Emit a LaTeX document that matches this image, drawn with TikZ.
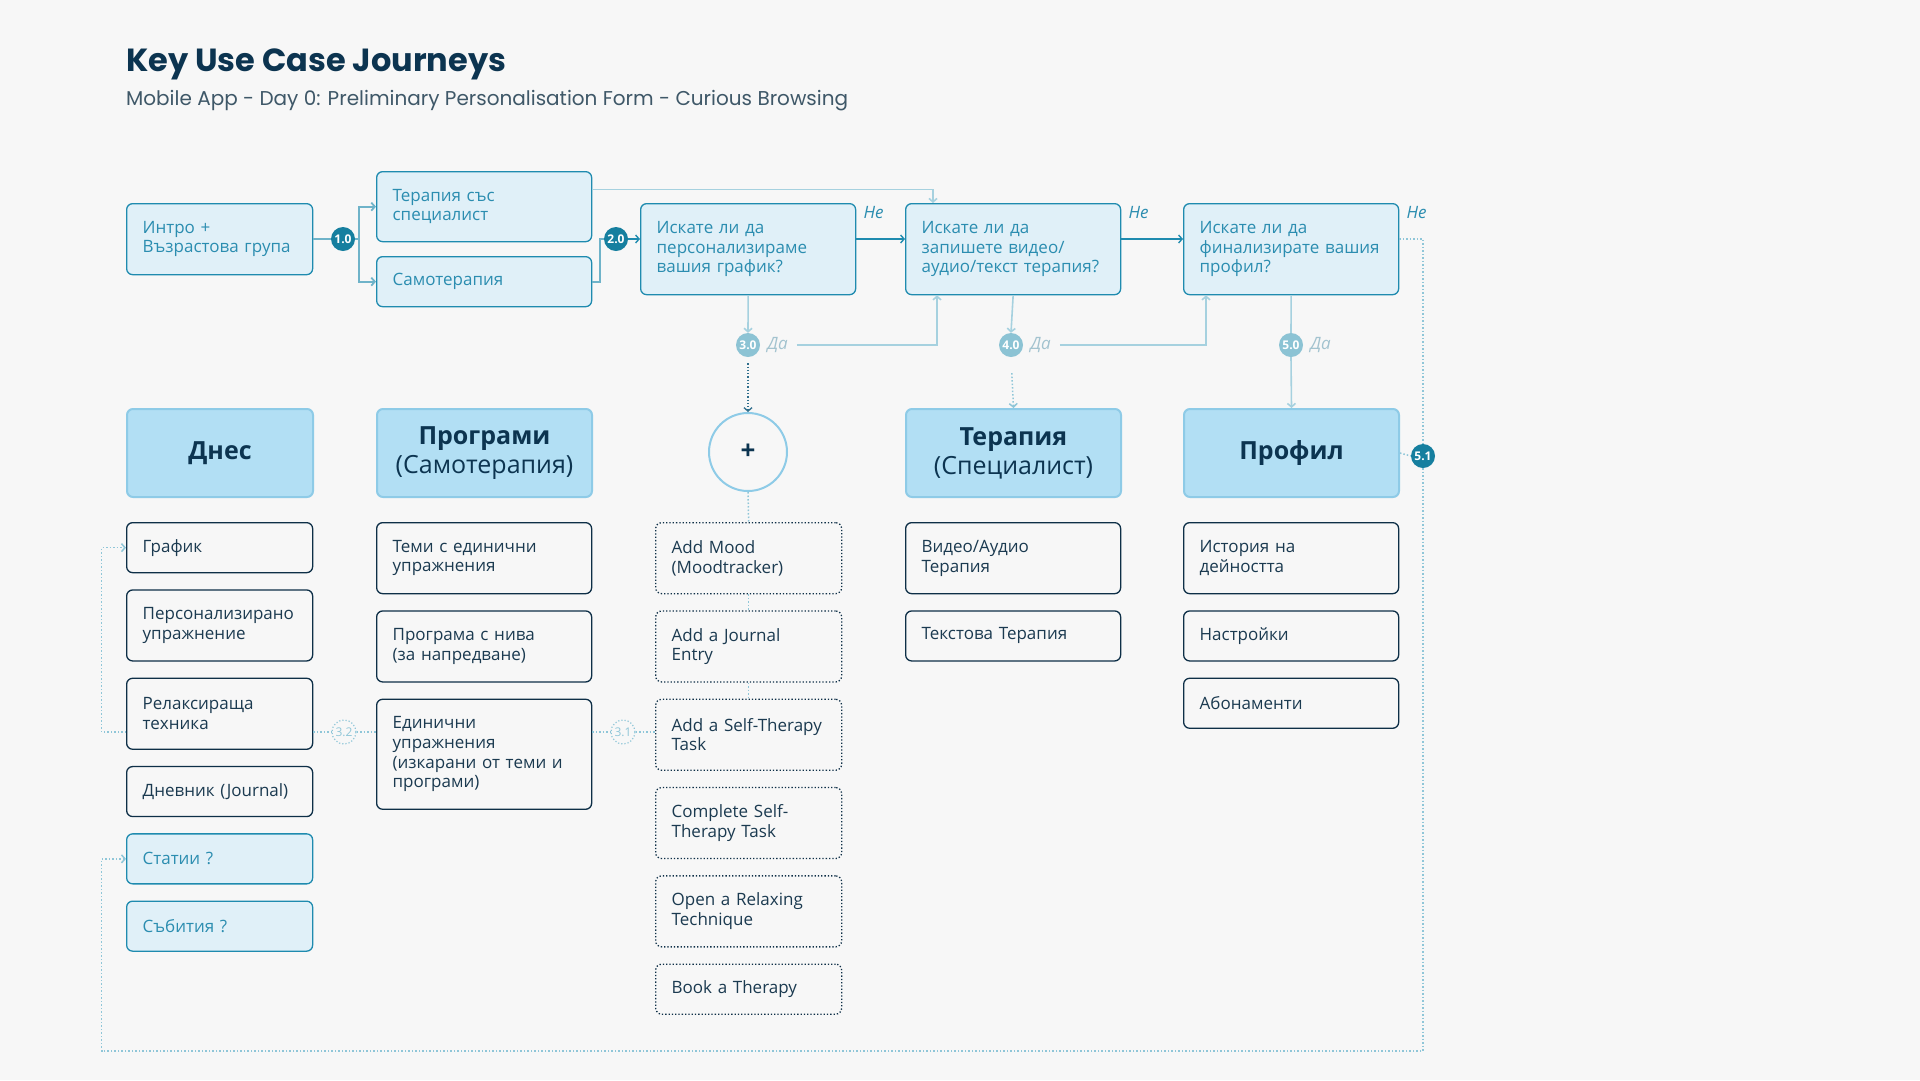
\documentclass[tikz,border=0pt]{standalone}
\usepackage{fontspec}
\setmainfont{Open Sans}
\newfontfamily\titlefont{Poppins}
\usetikzlibrary{arrows.meta, positioning, calc}
\definecolor{pagebg}{HTML}{F7F7F7}
\definecolor{navy}{HTML}{0C3450}
\definecolor{subgray}{HTML}{3F5868}
\definecolor{qfill}{HTML}{E0F0F8}
\definecolor{qline}{HTML}{1F8BAF}
\definecolor{qtext}{HTML}{2B8DB0}
\definecolor{hfill}{HTML}{B2DFF4}
\definecolor{hline}{HTML}{8ECBE7}
\definecolor{itemline}{HTML}{0E2F47}
\definecolor{itemtext}{HTML}{1B3A50}
\definecolor{darkbadge}{HTML}{167F9F}
\definecolor{softbadge}{HTML}{8CC3D4}
\definecolor{softline}{HTML}{A6D1DF}
\definecolor{midline}{HTML}{6FB3C9}
\definecolor{dotline}{HTML}{8FC6D8}
\definecolor{dotdark}{HTML}{2F6E8C}
\definecolor{datext}{HTML}{A3C3CF}

\begin{document}
\begin{tikzpicture}[x=1pt, y=-1pt,
  every node/.style={font=\fontsize{17}{19.6}\selectfont},
  topbox/.style={rectangle, rounded corners=6pt, draw=qline, fill=qfill, text=qtext, line width=1.3pt, align=left, inner xsep=16pt, anchor=north west},
  headbox/.style={rectangle, rounded corners=6pt, draw=hline, fill=hfill, text=navy, line width=2pt, align=center, inner xsep=16pt, minimum height=88pt, anchor=north west, font=\fontsize{25}{29}\selectfont},
  itembox/.style={rectangle, rounded corners=6pt, draw=itemline, text=itemtext, line width=1.3pt, align=left, inner xsep=16pt},
  optbox/.style={itembox, dotted},
  narrow/.style={text width=154pt},
  wide/.style={text width=183pt},
  short/.style={minimum height=50pt},
  tall/.style={minimum height=71pt},
  badge/.style={circle, fill=darkbadge, text=white, inner sep=0pt, minimum size=24pt, font=\bfseries\fontsize{12}{12}\selectfont},
  softbadge/.style={badge, fill=softbadge},
  linkbadge/.style={circle, draw=dotline, dotted, line width=1.2pt, text=dotline, inner sep=0pt, minimum size=24pt, font=\fontsize{12}{12}\selectfont},
  yes/.style={text=datext, inner sep=0pt, font=\itshape\fontsize{17}{17}\selectfont},
  no/.style={text=qtext, inner sep=0pt, font=\itshape\fontsize{17}{17}\selectfont},
  arr/.style={-{Straight Barb[length=3.5pt, width=8pt]}},
  flow/.style={draw=qline, line width=1.4pt},
  midflow/.style={draw=midline, line width=1.8pt},
  softflow/.style={draw=softline, line width=1.6pt},
  dotsoft/.style={draw=dotline, line width=1.5pt, dotted},
  dotstrong/.style={draw=dotdark, line width=1.3pt, dotted},
]
\fill[pagebg] (0,0) rectangle (1920,1080);

% Heading
\node[anchor=base west, inner sep=0pt, text=navy, font=\titlefont\bfseries\fontsize{32}{36}\selectfont] (title) at (126,71) {Key Use Case Journeys};
\node[anchor=base west, inner sep=0pt, text=subgray, font=\titlefont\fontsize{20}{24}\selectfont] (subtitle) at (126,105) {Mobile App - Day 0: Preliminary Personalisation Form - Curious Browsing};

% Questions
\node[topbox, narrow, tall] (intro) at (126,203) {Интро +\\Възрастова група};
\node[topbox, wide, minimum height=70pt] (spec) at (376,171) {Терапия със\\специалист};
\node[topbox, wide, short] (self) at (376,256) {Самотерапия};
\node[topbox, wide, minimum height=91pt] (q1) at (640,203) {Искате ли да\\персонализираме\\вашия график?};
\node[topbox, wide, minimum height=91pt] (q2) at (905,203) {Искате ли да\\запишете видео/\\аудио/текст терапия?};
\node[topbox, wide, minimum height=91pt] (q3) at (1183,203) {Искате ли да\\финализирате вашия\\профил?};

% Sections
\node[headbox, narrow] (today) at (126,408) {\textbf{Днес}};
\node[headbox, wide] (progs) at (376,408) {\textbf{Програми}\\(Самотерапия)};
\node[circle, draw=hline, line width=2pt, minimum size=78pt, inner sep=0pt, text=navy, font=\bfseries\fontsize{26}{26}\selectfont] (plus) at (748,452) {+};
\node[headbox, wide] (therapy) at (905,408) {\textbf{Терапия}\\(Специалист)};
\node[headbox, wide] (profile) at (1183,408) {\textbf{Профил}};

% Today
\node[itembox, narrow, short, anchor=north west] (grafik) at (126,522) {График};
\node[itembox, narrow, tall, below=16pt of grafik] (persex) {Персонализирано\\упражнение};
\node[itembox, narrow, tall, below=16pt of persex] (relax) {Релаксираща\\техника};
\node[itembox, narrow, short, below=16pt of relax] (diary) {Дневник (Journal)};
\node[topbox, narrow, short, below=16pt of diary] (articles) {Статии ?};
\node[topbox, narrow, short, below=16pt of articles] (events) {Събития ?};

% Programs
\node[itembox, wide, tall, anchor=north west] (topics) at (376,522) {Теми с единични\\упражнения};
\node[itembox, wide, tall, below=16pt of topics] (levels) {Програма с нива\\(за напредване)};
\node[itembox, wide, minimum height=110pt, below=16pt of levels] (single) {Единични\\упражнения\\(изкарани от теми и\\програми)};

% Quick actions
\node[optbox, narrow, tall, anchor=north west] (mood) at (655,522) {Add Mood\\(Moodtracker)};
\node[optbox, narrow, tall, below=16pt of mood] (entry) {Add a Journal\\Entry};
\node[optbox, narrow, tall, below=16pt of entry] (task) {Add a Self-Therapy\\Task};
\node[optbox, narrow, tall, below=16pt of task] (done) {Complete Self-\\Therapy Task};
\node[optbox, narrow, tall, below=16pt of done] (tech) {Open a Relaxing\\Technique};
\node[optbox, narrow, short, below=16pt of tech] (book) {Book a Therapy};

% Therapy
\node[itembox, wide, tall, anchor=north west] (media) at (905,522) {Видео/Аудио\\Терапия};
\node[itembox, wide, short, below=16pt of media] (textth) {Текстова Терапия};

% Profile
\node[itembox, wide, tall, anchor=north west] (history) at (1183,522) {История на\\дейността};
\node[itembox, wide, short, below=16pt of history] (settings) {Настройки};
\node[itembox, wide, short, below=16pt of settings] (subs) {Абонаменти};

% Badges
\node[badge] (b10) at (343,239) {1.0};
\node[badge] (b20) at (616,239) {2.0};
\node[softbadge] (b30) at (748,345) {3.0};
\node[softbadge] (b40) at (1011,345) {4.0};
\node[softbadge] (b50) at (1291,345) {5.0};
\node[badge] (b51) at (1423,456) {5.1};
\node[linkbadge] (b32) at (344,732) {3.2};
\node[linkbadge] (b31) at (623,732) {3.1};

\node[yes, anchor=west] (yes3) at ([xshift=7pt]b30.east) {Да};
\node[yes, anchor=west] (yes4) at ([xshift=7pt]b40.east) {Да};
\node[yes, anchor=west] (yes5) at ([xshift=7pt]b50.east) {Да};
\node[no, anchor=west] (no1) at ([xshift=7pt,yshift=-10pt]q1.north east) {Не};
\node[no, anchor=west] (no2) at ([xshift=7pt,yshift=-10pt]q2.north east) {Не};
\node[no, anchor=west] (no3) at ([xshift=7pt,yshift=-10pt]q3.north east) {Не};

\coordinate (row) at (0,239);
\coordinate (fork) at (359,239);
\coordinate (join) at (600,239);
\coordinate (lk) at (0,732);
\coordinate (loopbl) at (101.6,1051);

% Entry flow
\draw[midflow] (intro.east |- row) -- (b10.west);
\draw[midflow] (b10.east) -- (fork);
\draw[midflow, arr] (fork) |- (spec.west);
\draw[midflow, arr] (fork) |- (self.west);
\draw[midflow] (self.east) -| (join) -- (b20.west);
\draw[flow, arr] (b20.east) -- (q1.west |- row);
\draw[softflow, arr] ([yshift=17pt]spec.east) -| ([xshift=28pt]q2.north west);

% No branches
\draw[flow, arr] (q1.east |- row) -- (q2.west |- row);
\draw[flow, arr] (q2.east |- row) -- (q3.west |- row);

% Yes branches
\draw[softflow, arr] (q1.south) -- (b30.north);
\draw[softflow, arr] (q2.south) -- (b40.north);
\draw[softflow] (q3.south) -- (b50.north);
\draw[softflow, arr] (b50.south) -- (profile.north);
\draw[softflow, arr, shorten <=9pt] (yes3.east) -| ([xshift=32pt]q2.south west);
\draw[softflow, arr, shorten <=9pt] (yes4.east) -| ([xshift=23pt]q3.south west);
\draw[dotstrong, arr, shorten <=6pt] (b30.south) -- (plus.north);
\draw[dotsoft, arr, shorten <=16pt] (b40.south) -- (therapy.north);

% Quick action links
\draw[dotsoft] (plus.south) -- (mood.north);
\draw[dotsoft] (mood.south) -- (entry.north);
\draw[dotsoft] (entry.south) -- (task.north);

% Cross links
\draw[dotsoft] (relax.east |- lk) -- (b32.west);
\draw[dotsoft] (b32.east) -- (single.west |- lk);
\draw[dotsoft] (single.east |- lk) -- (b31.west);
\draw[dotsoft] (b31.east) -- (task.west |- lk);
\draw[dotsoft, arr] (relax.west |- lk) -- ++(-24.5,0) |- (grafik.west);

% Return loop
\draw[dotsoft] (q3.east |- row) -| (b51.north);
\draw[dotsoft] (profile.east) -- (b51.west);
\draw[dotsoft, arr] (b51.south) |- (loopbl) |- (articles.west);
\end{tikzpicture}
\end{document}
